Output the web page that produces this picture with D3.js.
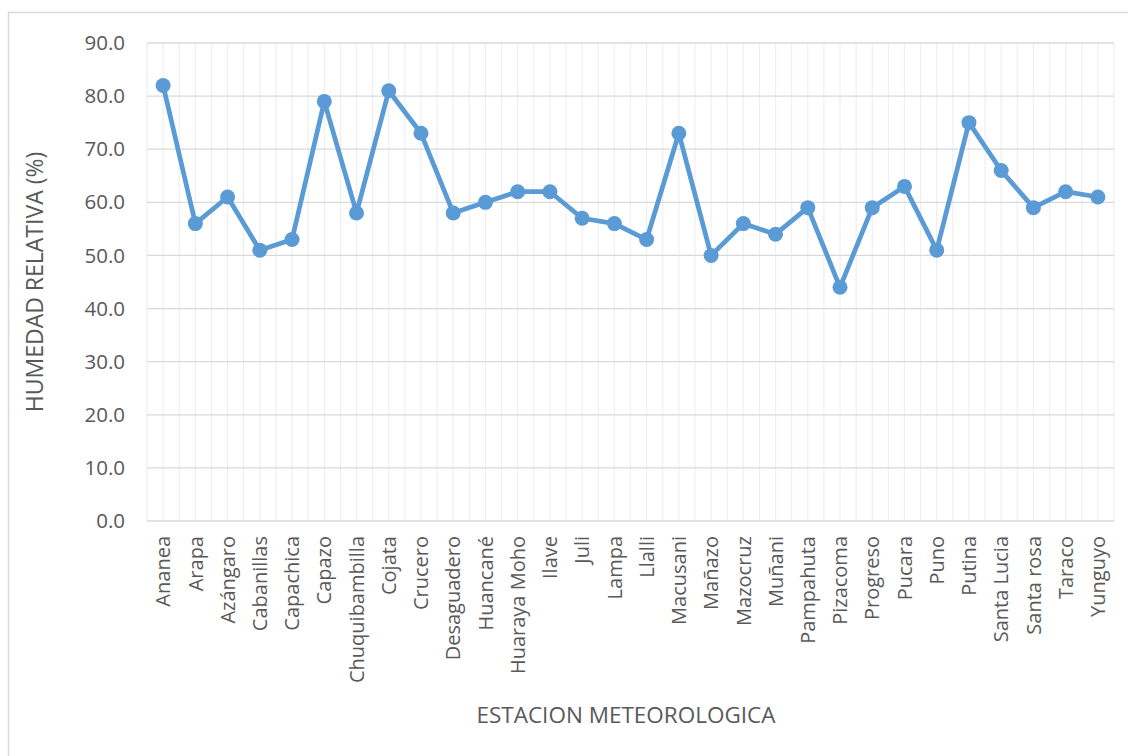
<!DOCTYPE html>
<html><head><meta charset="utf-8">
<script src="https://cdn.jsdelivr.net/npm/d3@7"></script>
<style>body{margin:0;background:#fff}svg{display:block}</style>
</head><body><svg id="c" width="1128" height="756"></svg>
<script>
const stations = ["Ananea","Arapa","Azángaro","Cabanillas","Capachica","Capazo","Chuquibambilla","Cojata","Crucero","Desaguadero","Huancané","Huaraya Moho","Ilave","Juli","Lampa","Llalli","Macusani","Mañazo","Mazocruz","Muñani","Pampahuta","Pizacoma","Progreso","Pucara","Puno","Putina","Santa Lucia","Santa rosa","Taraco","Yunguyo"];
const humidity = [82,56,61,51,53,79,58,81,73,58,60,62,62,57,56,53,73,50,56,54,59,44,59,63,51,75,66,59,62,61];
const yTicks = [0,10,20,30,40,50,60,70,80,90];
const xTitle = "ESTACION METEOROLOGICA";
const yTitle = "HUMEDAD RELATIVA (%)";

const svg = d3.select("#c");
const font = "'Open Sans', 'Liberation Sans', sans-serif";
const L = 147, R = 1114, T = 43, B = 521;

svg.append("rect").attr("x",8.5).attr("y",12.5).attr("width",1130).attr("height",760)
  .attr("fill","#fff").attr("stroke","#d9d9d9").attr("stroke-width",1.5);

const x = d3.scaleBand().domain(stations).range([L,R]);
const y = d3.scaleLinear().domain([0,90]).range([B,T]);

// vertical gridlines (boundaries and centers)
const g = svg.append("g");
const vlines = [];
stations.forEach(s => { vlines.push(x(s)); vlines.push(x(s)+x.bandwidth()/2); });
vlines.push(R);
g.selectAll("line.v").data(vlines).join("line").attr("class","v")
  .attr("x1",d=>d).attr("x2",d=>d).attr("y1",T).attr("y2",B)
  .attr("stroke","#efefef").attr("stroke-width",1.2);
g.selectAll("line.h").data(yTicks).join("line").attr("class","h")
  .attr("x1",L).attr("x2",R).attr("y1",d=>y(d)).attr("y2",d=>y(d))
  .attr("stroke","#d9d9d9").attr("stroke-width",1.3);

// y axis labels
const ya = svg.append("g").attr("transform",`translate(${L},0)`)
  .call(d3.axisLeft(y).tickValues(yTicks).tickFormat(d3.format(".1f")).tickSize(0).tickPadding(22));
ya.select(".domain").remove();
ya.selectAll("text").attr("font-family",font).attr("font-size",20.5).attr("fill","#595959");

// x axis labels
const xa = svg.append("g").attr("transform",`translate(0,${B})`)
  .call(d3.axisBottom(x).tickSize(0));
xa.select(".domain").remove();
xa.selectAll("text").attr("font-family",font).attr("font-size",20).attr("fill","#595959")
  .attr("transform","rotate(-90)").attr("text-anchor","end").attr("x",-15).attr("y",0).attr("dy","0.36em");

// line
const line = d3.line().x((d,i)=>x(stations[i])+x.bandwidth()/2).y(d=>y(d));
svg.append("path").datum(humidity).attr("d",line).attr("fill","none")
  .attr("stroke","#5b9bd5").attr("stroke-width",4.75).attr("stroke-linejoin","round");
svg.selectAll("circle.pt").data(humidity).join("circle").attr("class","pt")
  .attr("cx",(d,i)=>x(stations[i])+x.bandwidth()/2).attr("cy",d=>y(d)).attr("r",7.5)
  .attr("fill","#5b9bd5");

// titles
svg.append("text").attr("x",626).attr("y",723).attr("text-anchor","middle")
  .attr("font-family",font).attr("font-size",22.5).attr("fill","#595959").text(xTitle);
svg.append("text").attr("transform",`translate(43,282) rotate(-90)`).attr("text-anchor","middle")
  .attr("font-family",font).attr("font-size",23).attr("fill","#595959").text(yTitle);
</script></body></html>
